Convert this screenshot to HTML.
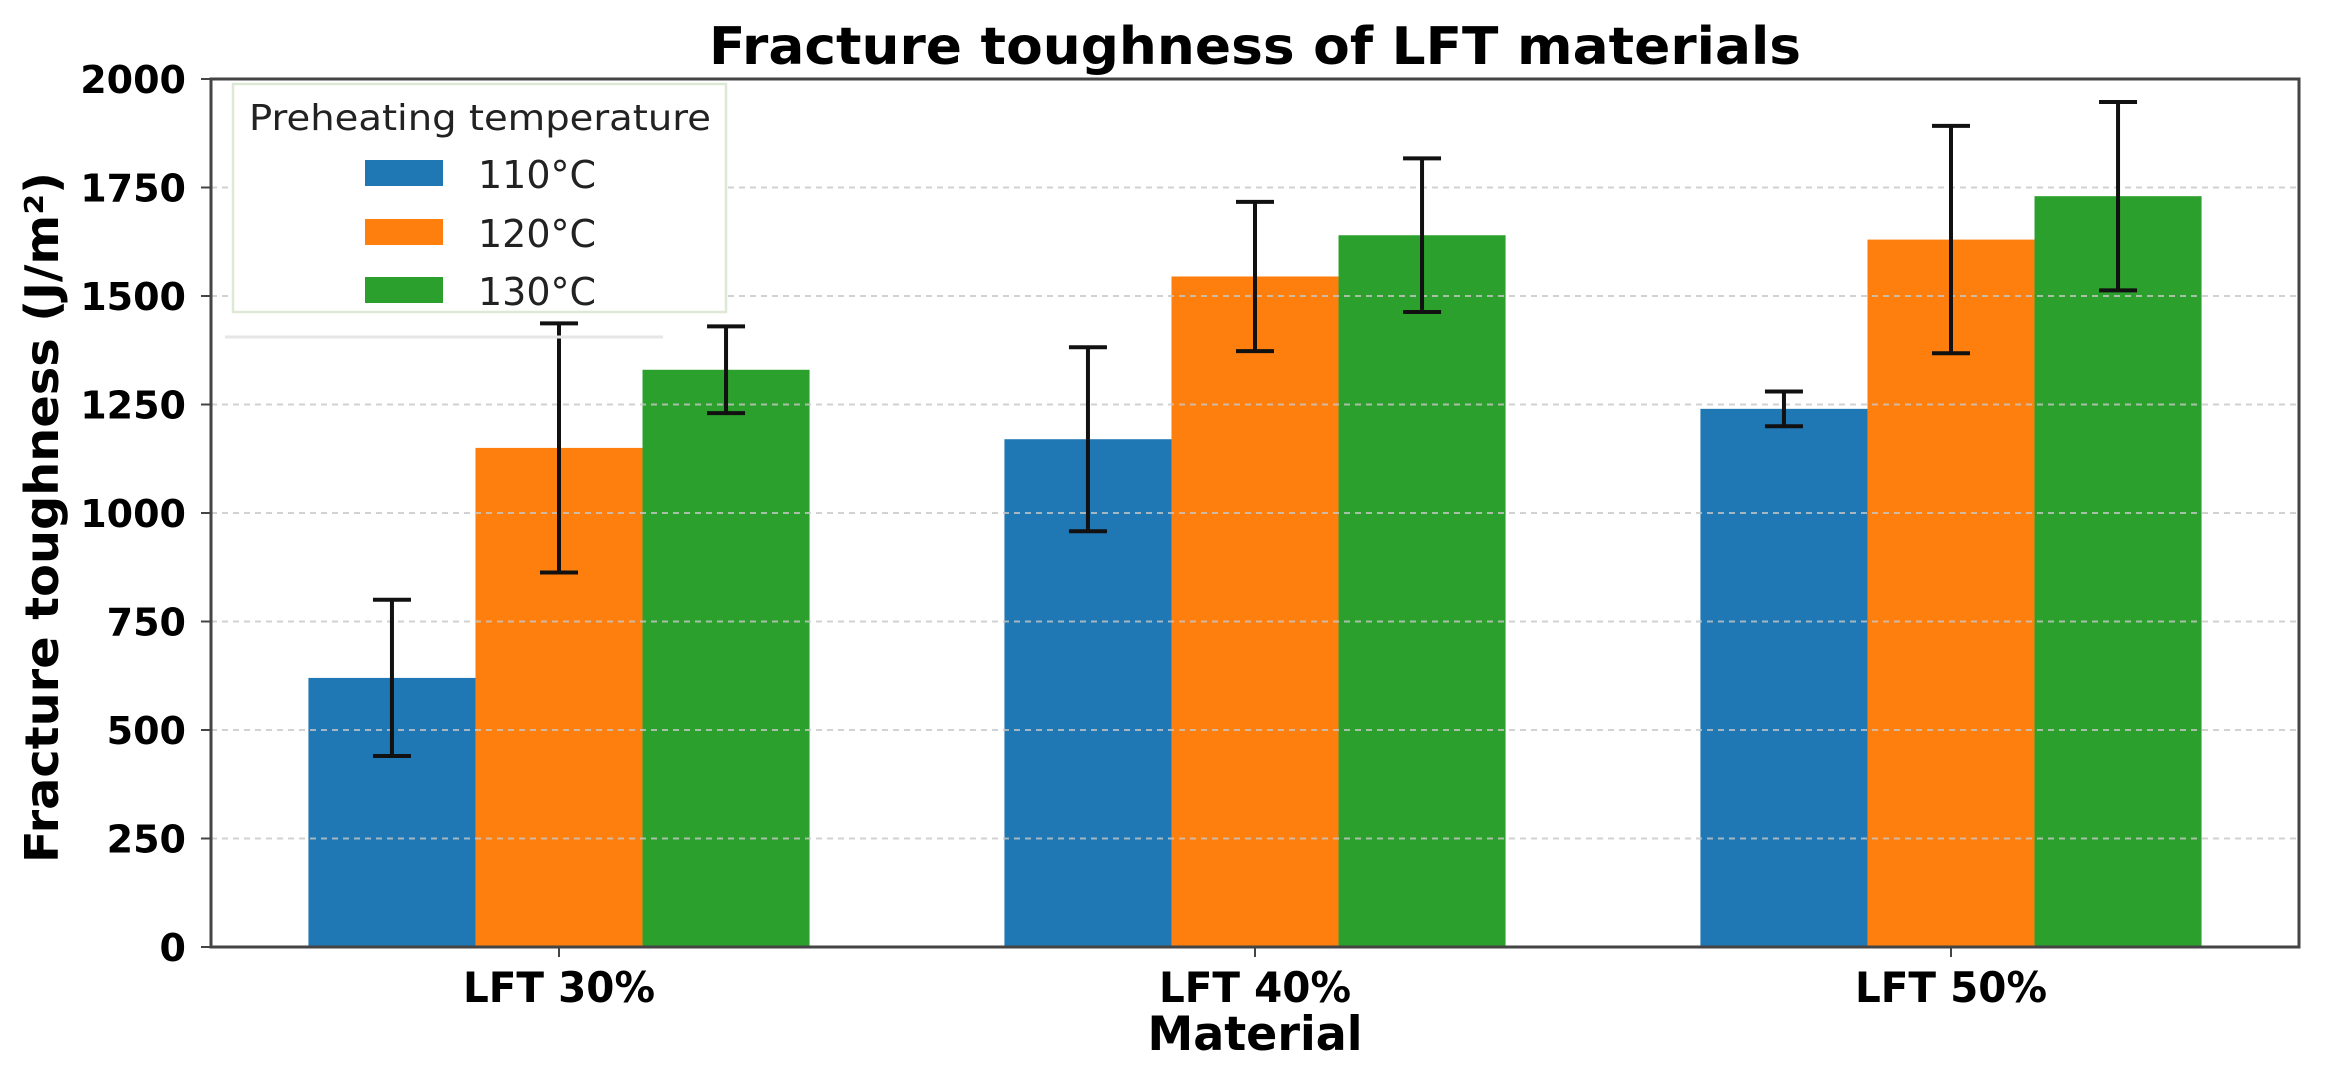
<!DOCTYPE html>
<html><head><meta charset="utf-8"><style>
html,body{margin:0;padding:0;background:#fff;}
svg{display:block;}
text{font-family:"DejaVu Sans","Liberation Sans",sans-serif;}
</style></head><body>
<svg id="chart" width="2326" height="1076" viewBox="0 0 2326 1076" xmlns="http://www.w3.org/2000/svg">
<rect width="2326" height="1076" fill="#fff"/>
<text x="1255" y="64" text-anchor="middle" font-size="52" font-weight="bold" textLength="1092" lengthAdjust="spacingAndGlyphs">Fracture toughness of LFT materials</text>
<g id="grid"></g>
<g id="bars"></g>
<g id="grid2"></g>
<g id="errs"></g>
<g id="axes"></g>
<text transform="translate(58,863) rotate(-90)" font-size="46" font-weight="bold" textLength="691" lengthAdjust="spacingAndGlyphs">Fracture toughness (J/m²)</text>
<text x="1255" y="1050" text-anchor="middle" font-size="47" font-weight="bold" textLength="215" lengthAdjust="spacingAndGlyphs">Material</text>
<line x1="225" y1="337" x2="663" y2="337" stroke="#e6e6e6" stroke-width="3"/>
<g>
<rect x="233" y="84" width="493" height="228" fill="#fff" stroke="#dde8d6" stroke-width="2.5"/>
<text x="480" y="130" text-anchor="middle" font-size="36" fill="#222" textLength="462" lengthAdjust="spacingAndGlyphs">Preheating temperature</text>
<g id="legend-items"></g>
</g>
</svg>
<script>
const categories = ["LFT 30%", "LFT 40%", "LFT 50%"];
const seriesNames = ["110°C", "120°C", "130°C"];
const values110 = [620, 1170, 1240];
const values120 = [1150, 1545, 1630];
const values130 = [1330, 1640, 1730];
const errors110 = [180, 212, 40];
const errors120 = [287, 172, 262];
const errors130 = [100, 177, 217];
const yTicks = [0, 250, 500, 750, 1000, 1250, 1500, 1750, 2000];
const colors = ["#1f77b4", "#ff7f0e", "#2ca02c"];

const NS = "http://www.w3.org/2000/svg";
const L = 211, R = 2299, T = 79, B = 947;
const xMin = -0.5, xMax = 2.5, yMax = 2000;
const barW = 0.24;
function xs(v){ return L + (v - xMin) / (xMax - xMin) * (R - L); }
function ys(v){ return B - v / yMax * (B - T); }
function mk(tag, attrs, parent){ const e = document.createElementNS(NS, tag); for (const k in attrs) e.setAttribute(k, attrs[k]); parent.appendChild(e); return e; }

const grid = document.getElementById('grid');
const grid2 = document.getElementById('grid2');
const axes = document.getElementById('axes');
yTicks.forEach(t => {
  const y = ys(t);
  if (t > 0 && t < yMax) {
    const g = mk('line', {x1: L, x2: R, y1: y, y2: y, stroke: '#c8c8c8', 'stroke-width': 2, 'stroke-dasharray': '6 5', opacity: 0.8}, grid2);
    
    
  }
  const tk = mk('line', {x1: L - 10, x2: L, y1: y, y2: y, stroke: '#444', 'stroke-width': 2}, axes);
  
  
  const lb = mk('text', {x: 186, y: y + 14, 'text-anchor': 'end', 'font-size': 38, 'font-weight': 'bold'}, axes);
  lb.textContent = t;
  
  
});

const allVals = [values110, values120, values130];
const allErrs = [errors110, errors120, errors130];
const bars = document.getElementById('bars');
const errs = document.getElementById('errs');
categories.forEach((c, i) => {
  for (let s = 0; s < 3; s++) {
    const cx = i + (s - 1) * barW;
    const v = allVals[s][i];
    const x0 = xs(cx - barW / 2), x1 = xs(cx + barW / 2);
    const r = mk('rect', {x: x0, y: ys(v), width: x1 - x0, height: ys(0) - ys(v), fill: colors[s]}, bars);
    
    
    const e = allErrs[s][i];
    const px = xs(cx), yt = ys(v + e), yb = ys(v - e);
    const g = mk('g', {stroke: '#111', 'stroke-width': 4}, errs);
    
    
    mk('line', {x1: px, x2: px, y1: yt, y2: yb}, g);
    mk('line', {x1: px - 19, x2: px + 19, y1: yt, y2: yt}, g);
    mk('line', {x1: px - 19, x2: px + 19, y1: yb, y2: yb}, g);
  }
  const tk = mk('line', {x1: xs(i), x2: xs(i), y1: B, y2: B + 10, stroke: '#444', 'stroke-width': 2}, axes);
  
  
  const lb = mk('text', {x: xs(i), y: 1002, 'text-anchor': 'middle', 'font-size': 42, 'font-weight': 'bold', textLength: 192, lengthAdjust: 'spacingAndGlyphs'}, axes);
  lb.textContent = c;
  
  
});
const frame = mk('rect', {x: L, y: T, width: R - L, height: B - T, fill: 'none', stroke: '#444', 'stroke-width': 3}, axes);



const li = document.getElementById('legend-items');
const legY = [160, 219, 277];
seriesNames.forEach((n, s) => {
  const g = mk('g', {}, li);
  
  
  mk('rect', {x: 365, y: legY[s], width: 78, height: 26, fill: colors[s]}, g);
  const t = mk('text', {x: 478, y: legY[s] + 28, 'font-size': 38, fill: '#222'}, g);
  t.textContent = n;
});
</script>
</body></html>
